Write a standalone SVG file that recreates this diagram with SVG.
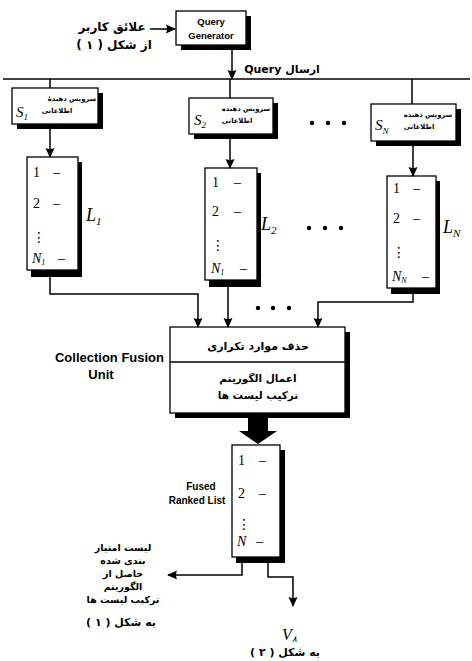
<svg xmlns="http://www.w3.org/2000/svg" width="472" height="661" viewBox="0 0 472 661">
<style>
.box{fill:#fff;stroke:#000;stroke-width:1.3}
.sh{fill:#000}
.ln{fill:none;stroke:#000;stroke-width:1.5}
.fa{font-family:"DejaVu Sans",sans-serif;font-weight:bold;fill:#000}
.en{font-family:"Liberation Sans",Arial,sans-serif;font-weight:bold;fill:#000}
.sr{font-family:"Liberation Serif","Times New Roman",serif;fill:#000}
.it{font-family:"Liberation Serif","Times New Roman",serif;font-style:italic;fill:#000}
.dt{font-family:"DejaVu Sans",sans-serif;fill:#000}
</style>
<defs>
<marker id="ah" markerWidth="10" markerHeight="10" refX="9" refY="5" orient="auto" markerUnits="userSpaceOnUse">
<path d="M0,0.5 L10,5 L0,9.5 Q2,5 0,0.5 z" fill="#000"/>
</marker>
</defs>
<rect width="472" height="661" fill="#fff"/>

<g id="user-input">
<text class="fa" x="112" y="31" font-size="12" text-anchor="middle" direction="rtl">علائق کاربر</text>
<text class="fa" x="114" y="49" font-size="12" text-anchor="middle" direction="rtl">از شکل ( ۱ )</text>
</g>

<g id="query-generator">
<rect class="sh" x="181" y="16" width="70" height="34"/>
<rect class="box" x="176" y="11" width="70" height="34"/>
<text class="en" x="211" y="25" font-size="9.5" text-anchor="middle">Query</text>
<text class="en" x="211" y="39" font-size="9.5" text-anchor="middle">Generator</text>
</g>

<g id="query-label">
<text class="fa" x="282" y="73" font-size="11" text-anchor="middle" direction="rtl">ارسال Query</text>
</g>

<g id="s1">
<rect class="sh" x="17" y="93" width="86" height="36"/>
<rect class="box" x="12" y="88" width="86" height="36"/>
<text class="fa" x="72" y="101" font-size="6.8" text-anchor="middle" direction="rtl">سرویس دهندهٔ</text>
<text class="fa" x="57" y="113" font-size="6.8" text-anchor="middle" direction="rtl">اطلاعاتی</text>
<text class="it" x="16" y="117" font-size="15">S<tspan font-size="9" dy="3">1</tspan></text>
</g>

<g id="s2">
<rect class="sh" x="194" y="103" width="84" height="36"/>
<rect class="box" x="189" y="98" width="84" height="36"/>
<text class="fa" x="246" y="111" font-size="6.8" text-anchor="middle" direction="rtl">سرویس دهنده</text>
<text class="fa" x="237" y="123" font-size="6.8" text-anchor="middle" direction="rtl">اطلاعاتی</text>
<text class="it" x="194" y="125" font-size="15">S<tspan font-size="9" dy="3">2</tspan></text>
</g>

<g id="sN">
<rect class="sh" x="376" y="109" width="85" height="37"/>
<rect class="box" x="371" y="104" width="85" height="37"/>
<text class="fa" x="428" y="117" font-size="6.8" text-anchor="middle" direction="rtl">سرویس دهنده</text>
<text class="fa" x="419" y="129" font-size="6.8" text-anchor="middle" direction="rtl">اطلاعاتی</text>
<text class="it" x="375" y="130" font-size="15">S<tspan font-size="9" dy="4">N</tspan></text>
</g>

<g id="dots">
<circle cx="312" cy="123" r="2.2"/><circle cx="328" cy="123" r="2.2"/><circle cx="344" cy="123" r="2.2"/>
<circle cx="309" cy="228" r="2.2"/><circle cx="325" cy="228" r="2.2"/><circle cx="341" cy="228" r="2.2"/>
<circle cx="258" cy="308" r="2.2"/><circle cx="273" cy="308" r="2.2"/><circle cx="289" cy="308" r="2.2"/>
</g>

<g id="list1">
<rect class="sh" x="31" y="162" width="51" height="115"/>
<rect class="box" x="27" y="157" width="51" height="113"/>
<text class="sr" x="33" y="177" font-size="14">1</text><text class="sr" x="53" y="177" font-size="14">–</text>
<text class="sr" x="33" y="208" font-size="14">2</text><text class="sr" x="53" y="208" font-size="14">–</text>
<text class="dt" x="32" y="242" font-size="14">⋮</text>
<text class="it" x="32" y="263" font-size="14">N<tspan font-size="8" dy="2">1</tspan></text><text class="sr" x="58" y="263" font-size="14">–</text>
<text class="it" x="86" y="221" font-size="18">L<tspan font-size="11" dy="4">1</tspan></text>
</g>

<g id="list2">
<rect class="sh" x="209" y="173" width="52" height="114"/>
<rect class="box" x="205" y="168" width="52" height="112"/>
<text class="sr" x="212" y="187" font-size="14">1</text><text class="sr" x="234" y="187" font-size="14">–</text>
<text class="sr" x="212" y="216" font-size="14">2</text><text class="sr" x="234" y="216" font-size="14">–</text>
<text class="dt" x="211" y="250" font-size="14">⋮</text>
<text class="it" x="211" y="273" font-size="14">N<tspan font-size="8" dy="2">1</tspan></text><text class="sr" x="240" y="273" font-size="14">–</text>
<text class="it" x="261" y="230" font-size="18">L<tspan font-size="11" dy="4">2</tspan></text>
</g>

<g id="listN">
<rect class="sh" x="391" y="181" width="49" height="113"/>
<rect class="box" x="387" y="176" width="49" height="112"/>
<text class="sr" x="393" y="193" font-size="14">1</text><text class="sr" x="413" y="193" font-size="14">–</text>
<text class="sr" x="393" y="223" font-size="14">2</text><text class="sr" x="413" y="223" font-size="14">–</text>
<text class="dt" x="392" y="257" font-size="14">⋮</text>
<text class="it" x="392" y="281" font-size="14">N<tspan font-size="8" dy="2">N</tspan></text><text class="sr" x="422" y="281" font-size="14">–</text>
<text class="it" x="443" y="233" font-size="18">L<tspan font-size="11" dy="4">N</tspan></text>
</g>

<g id="fusion-unit">
<rect class="sh" x="175" y="332" width="175" height="86"/>
<rect class="box" x="170" y="327" width="175" height="86"/>
<line x1="170" y1="362" x2="345" y2="362" stroke="#000" stroke-width="1.3"/>
<text class="fa" x="258" y="350" font-size="11" text-anchor="middle" direction="rtl">حذف موارد تکراری</text>
<text class="fa" x="258" y="382" font-size="10.5" text-anchor="middle" direction="rtl">اعمال الگوریتم</text>
<text class="fa" x="258" y="399" font-size="10.5" text-anchor="middle" direction="rtl">ترکیب لیست ها</text>
<text class="en" x="164" y="362" font-size="13" text-anchor="end">Collection Fusion</text>
<text class="en" x="101" y="379" font-size="13" text-anchor="middle">Unit</text>
</g>

<g id="fused-list">
<rect class="sh" x="236" y="450" width="49" height="113"/>
<rect class="box" x="232" y="445" width="48" height="112"/>
<text class="sr" x="238" y="465" font-size="14">1</text><text class="sr" x="259" y="465" font-size="14">–</text>
<text class="sr" x="238" y="498" font-size="14">2</text><text class="sr" x="259" y="498" font-size="14">–</text>
<text class="dt" x="237" y="529" font-size="14">⋮</text>
<text class="it" x="237" y="546" font-size="14">N</text><text class="sr" x="256" y="546" font-size="14">–</text>
<text class="en" x="201" y="490" font-size="10" text-anchor="middle">Fused</text>
<text class="en" x="197" y="504" font-size="10" text-anchor="middle">Ranked List</text>
</g>

<g id="output1">
<text class="fa" x="123" y="551" font-size="9.5" text-anchor="middle" direction="rtl">لیست امتیاز</text>
<text class="fa" x="123" y="564" font-size="9.5" text-anchor="middle" direction="rtl">بندی شده</text>
<text class="fa" x="123" y="577" font-size="9.5" text-anchor="middle" direction="rtl">حاصل از</text>
<text class="fa" x="123" y="590" font-size="9.5" text-anchor="middle" direction="rtl">الگوریتم</text>
<text class="fa" x="123" y="603" font-size="9.5" text-anchor="middle" direction="rtl">ترکیب لیست ها</text>
<text class="fa" x="121" y="626" font-size="11" text-anchor="middle" direction="rtl">به شکل ( ۱ )</text>
</g>

<g id="output2">
<text class="it" x="282" y="640" font-size="16">V<tspan font-size="9" dy="2">۸</tspan></text>
<text class="fa" x="285" y="656" font-size="11" text-anchor="middle" direction="rtl">به شکل ( ۲ )</text>
</g>

<g id="connectors">
<path class="ln" d="M150,29 H175" marker-end="url(#ah)"/>
<path class="ln" d="M232,50 V79" marker-end="url(#ah)"/>
<path class="ln" d="M3,79 H470"/>
<path class="ln" d="M50,79 V88"/>
<path class="ln" d="M230,79 V98"/>
<path class="ln" d="M412,79 V104"/>
<path class="ln" d="M50,129 V157" marker-end="url(#ah)"/>
<path class="ln" d="M230,139 V168" marker-end="url(#ah)"/>
<path class="ln" d="M413,146 V176" marker-end="url(#ah)"/>
<path class="ln" d="M50,277 V294 H198 V327" marker-end="url(#ah)"/>
<path class="ln" d="M228,287 V327" marker-end="url(#ah)"/>
<path class="ln" d="M413,294 V302 H318 V327" marker-end="url(#ah)"/>
<polygon points="248,418 268,418 268,431 277,431 258,444 239,431 248,431" fill="#000"/>
<path class="ln" d="M242,563 V575 H168" marker-end="url(#ah)"/>
<path class="ln" d="M268,563 V577 H293 V606" marker-end="url(#ah)"/>
</g>
</svg>
